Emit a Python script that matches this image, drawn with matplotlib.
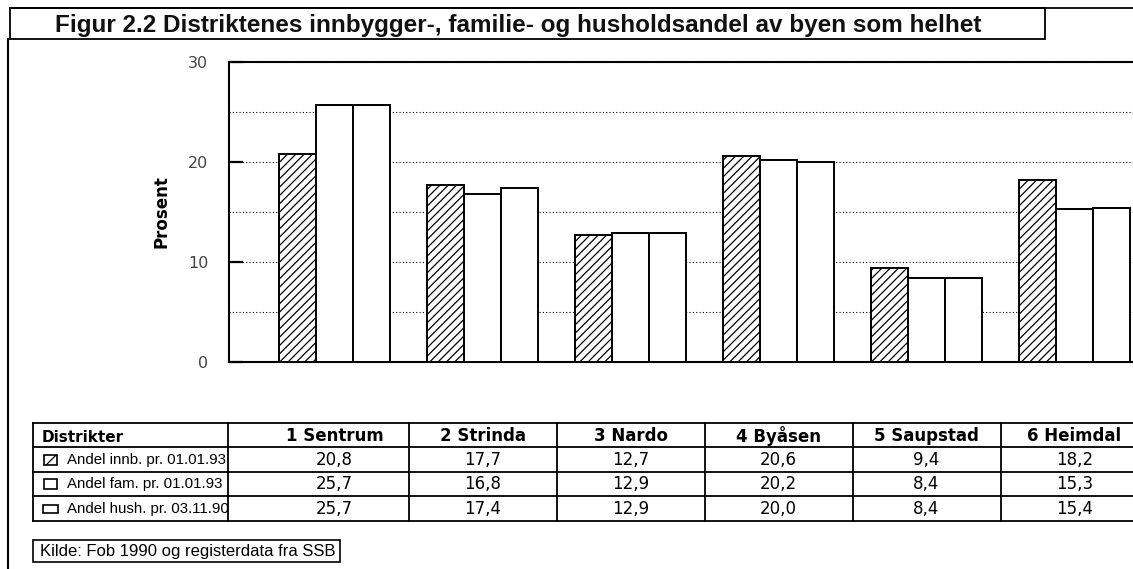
import matplotlib
matplotlib.use("Agg")
import matplotlib.pyplot as plt
from matplotlib.patches import Rectangle
from matplotlib.transforms import Bbox
import numpy as np

plt.rcParams['font.family'] = ['Liberation Sans', 'DejaVu Sans']
plt.rcParams['hatch.linewidth'] = 0.9

# Data
distrikter = ['1 Sentrum', '2 Strinda', '3 Nardo', '4 Byåsen', '5 Saupstad', '6 Heimdal']
serie_navn = ['Andel innb. pr. 01.01.93', 'Andel fam. pr. 01.01.93', 'Andel hush. pr. 03.11.90']
innb = [20.8, 17.7, 12.7, 20.6, 9.4, 18.2]
fam = [25.7, 16.8, 12.9, 20.2, 8.4, 15.3]
hush = [25.7, 17.4, 12.9, 20.0, 8.4, 15.4]
yticks = [0, 10, 20, 30]

W, H = 1133, 569
fig = plt.figure(figsize=(W / 100, H / 100), dpi=100)

# overlay in pixel coords for frame, title, table
ov = fig.add_axes([0, 0, 1, 1])
ov.set_xlim(0, W)
ov.set_ylim(H, 0)
ov.axis('off')

# main bar chart
ax = fig.add_axes([229 / W, 1 - 362 / H, 1 - 229 / W, 300 / H])
x = np.arange(len(distrikter))
bw = 0.25
ax.bar(x - bw, innb, bw, color='white', edgecolor='black', linewidth=1.4, hatch='////', zorder=3)
ax.bar(x, fam, bw, color='white', edgecolor='black', linewidth=1.4, zorder=3)
ax.bar(x + bw, hush, bw, color='white', edgecolor='black', linewidth=1.4, zorder=3)
ax.set_xlim(-0.713, 5.395)
ax.set_ylim(0, 30)
ax.set_yticks(yticks)
ax.set_yticks([5, 15, 25], minor=True)
ax.set_xticks([])
ax.grid(axis='y', which='both', color='black', linestyle=(0, (1, 2)), linewidth=0.8, zorder=0)
ax.tick_params(axis='y', which='major', direction='in', length=10, width=1.6, pad=15,
               labelsize=11.5, labelcolor='#444444')
for lab in ax.get_yticklabels():
    lab.set_family('DejaVu Sans')
ax.tick_params(axis='y', which='minor', length=0)
for s in ['left', 'top', 'bottom']:
    ax.spines[s].set_linewidth(1.5)
ax.spines['right'].set_visible(False)
ov.text(162, 212, 'Prosent', fontsize=12, fontweight='bold', rotation=90,
        va='center', ha='center', family='DejaVu Sans')

# frame and title
ov.plot([8, 8], [39, H], color='black', lw=1.5)
ov.plot([10, W], [8, 8], color='black', lw=1.3)
ov.add_patch(Rectangle((10, 8), 1035, 31, fill=False, edgecolor='black', lw=1.3))
ov.text(55, 32, 'Figur 2.2 Distriktenes innbygger-, familie- og husholdsandel av byen som helhet',
        fontsize=17.5, va='baseline', ha='left', fontweight='bold', color='#111111')

# data table
centers = [334.5 + 148 * i for i in range(len(distrikter))]
cols = [33, 228] + [260.5 + 148 * i for i in range(1, len(distrikter) + 1)]
rows = [423, 447, 472, 496, 521]
for yy in rows:
    ov.plot([33, W], [yy, yy], color='black', lw=1.3)
for xx in cols:
    ov.plot([xx, xx], [423, 521], color='black', lw=1.3)
ov.text(42, 437, 'Distrikter', fontsize=11, fontweight='bold', va='center', ha='left',
        family='DejaVu Sans')
for c, name in zip(centers, distrikter):
    ov.text(c, 436, name, fontsize=12, fontweight='bold', va='center', ha='center',
            family='DejaVu Sans')
series = [innb, fam, hush]
clip = Bbox.from_extents(0, 0, 228.5 / W * fig.bbox.width, fig.bbox.height)
for r, (lab, vals) in enumerate(zip(serie_navn, series)):
    yc = (rows[r + 1] + rows[r + 2]) / 2
    if r == 0:
        ov.add_patch(Rectangle((44, yc - 5), 13, 10, facecolor='white', edgecolor='black',
                               lw=1.2, hatch='///'))
    elif r == 1:
        ov.add_patch(Rectangle((44, yc - 5), 13, 10, facecolor='white', edgecolor='black', lw=1.2))
    else:
        ov.add_patch(Rectangle((43, yc - 4), 15, 8, facecolor='white', edgecolor='black', lw=1.2))
    t = ov.text(67, yc, lab, fontsize=10.8, va='center', ha='left')
    t.set_clip_box(clip)
    t.set_clip_on(True)
    for c, v in zip(centers, vals):
        ov.text(c, yc, f'{v:.1f}'.replace('.', ','), fontsize=12, va='center', ha='center',
                family='DejaVu Sans')

# source box
ov.add_patch(Rectangle((33, 540), 307, 22, fill=False, edgecolor='black', lw=1.2))
ov.text(40, 551.5, 'Kilde: Fob 1990 og registerdata fra SSB', fontsize=12, va='center', ha='left')

fig.savefig('out.png', dpi=100)
